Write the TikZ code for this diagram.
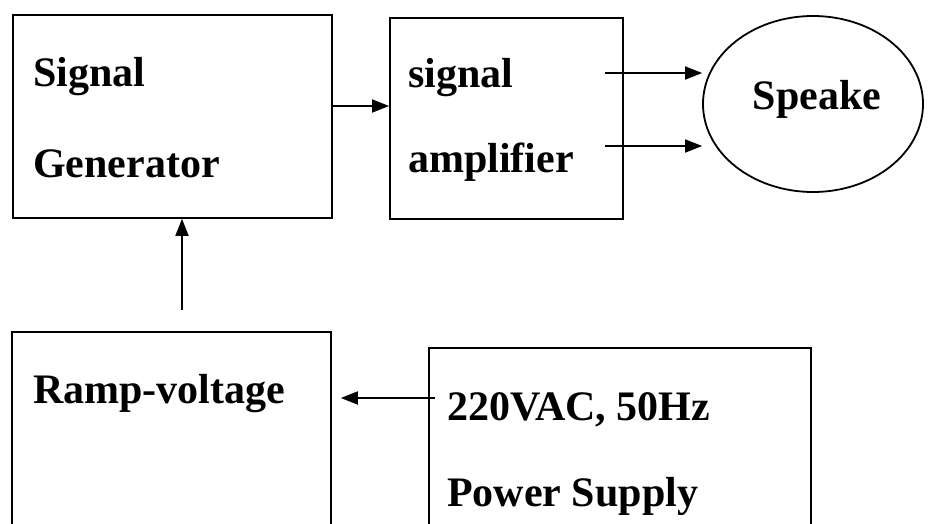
\documentclass[tikz,border=0pt]{standalone}
\usepackage{fontspec}
\setmainfont{Liberation Serif}
\usetikzlibrary{arrows.meta,shapes.geometric}
\begin{document}
\begin{tikzpicture}[x=1pt,y=-1pt,
  box/.style={draw, line width=1.8pt, rectangle, inner sep=0pt, anchor=north west},
  lbl/.style={anchor=base west, inner sep=0pt, font=\fontsize{42}{50}\selectfont\bfseries},
  arr/.style={line width=1.8pt, arrows={-Triangle[length=17pt,width=13pt]}}]
\useasboundingbox (0,0) rectangle (928,524);
\clip (0,0) rectangle (928,524);
% boxes
\node[box, minimum width=319pt, minimum height=203pt] (sg) at (12,14) {};
\node[box, minimum width=233pt, minimum height=201pt] (amp) at (389,17) {};
\node[draw, ellipse, line width=1.8pt, inner sep=0pt, minimum width=220pt, minimum height=176pt] (spk) at (813,104) {};
\node[box, minimum width=319pt, minimum height=260pt] (ramp) at (11,331) {};
\node[box, minimum width=382pt, minimum height=260pt] (ps) at (428,347) {};
% labels
\node[lbl] (t1) at (33,87) {Signal};
\node[lbl] (t2) at (33,177) {Generator};
\node[lbl] (t3) at (408,88) {signal};
\node[lbl] (t4) at (408,172) {amplifier};
\node[lbl, anchor=base] (t5) at (817,110) {Speake};
\node[lbl] (t6) at (33,403) {Ramp-voltage};
\node[lbl] (t7) at (447,420) {220VAC, 50Hz};
\node[lbl] (t8) at (447,506) {Power Supply};
% connectors
\coordinate (s1) at (331,106);
\draw[arr] (sg.east |- s1) -- (amp.west |- s1);
\coordinate (a1) at (605,73);
\coordinate (a2) at (605,146);
\draw[arr] (a1) -- (spk.west |- a1);
\draw[arr] (a2) -- (spk.west |- a2);
\coordinate (v0) at (182,310);
\draw[arr] (v0) -- (v0 |- sg.south);
\coordinate (h0) at (435,398);
\draw[arr] (h0) -- ([xshift=9pt]ramp.east |- h0);
\end{tikzpicture}
\end{document}
